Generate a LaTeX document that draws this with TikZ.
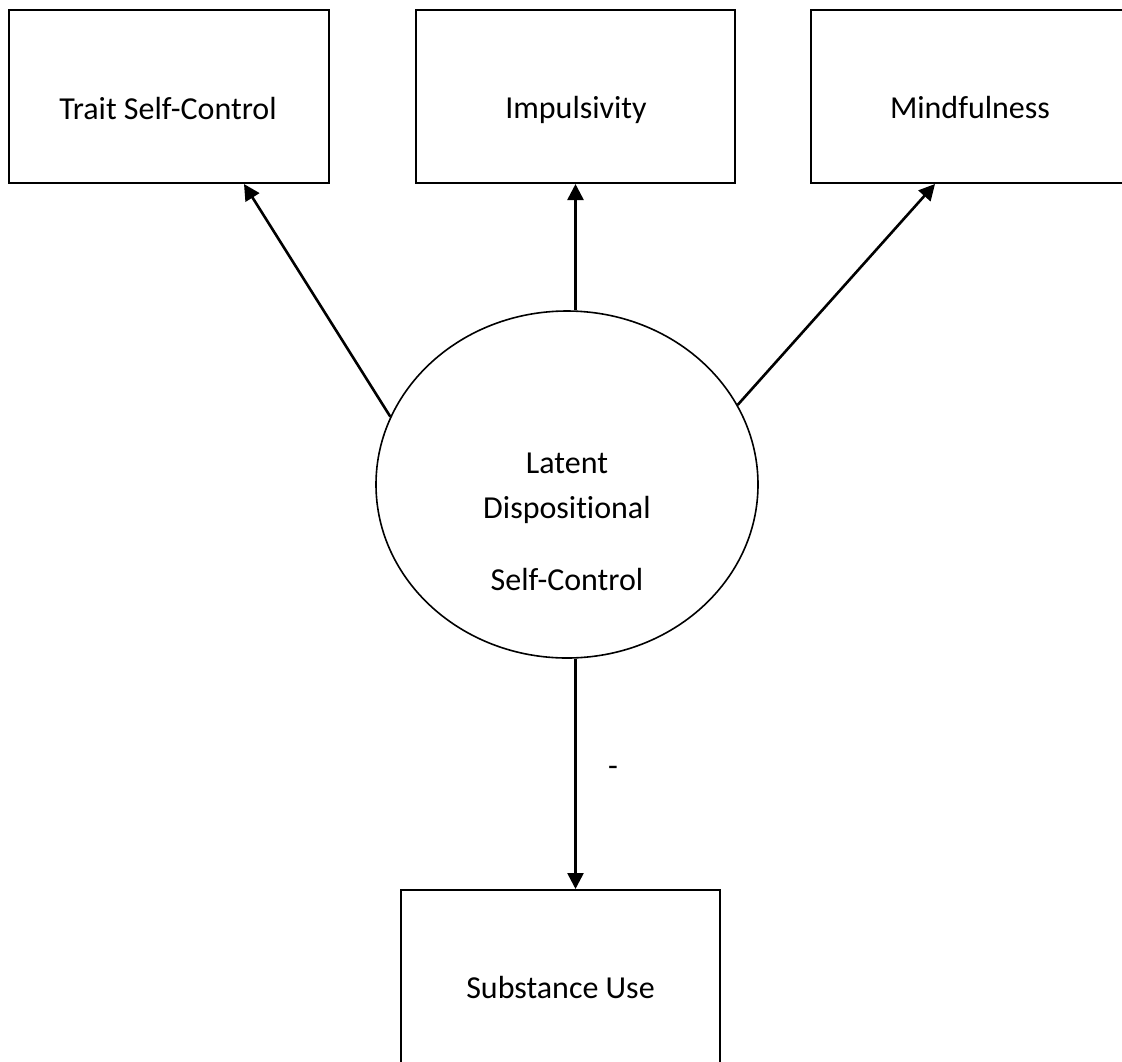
\documentclass[tikz,border=0pt]{standalone}
\usepackage{fontspec}
\setmainfont[Ligatures=NoCommon]{Carlito}
\usetikzlibrary{shapes.geometric,arrows.meta,calc}
\begin{document}
\begin{tikzpicture}[x=1pt,y=-1pt,
  box/.style={draw=black,line width=2pt,rectangle,inner sep=0pt,
    minimum width=319pt,minimum height=173pt},
  latent/.style={draw=black,line width=1.6pt,ellipse,inner sep=0pt,
    minimum width=382pt,minimum height=347pt},
  lbl/.style={anchor=base,inner sep=0pt,font=\fontsize{32}{38}\selectfont},
  arr/.style={line width=2.6pt,-{Triangle[length=16pt,width=16pt]}}]
\useasboundingbox (0,0) rectangle (1122,1061);
% observed indicators
\node[box,minimum width=320pt] (trait) at (169,96.5) {};
\node[box] (imp)  at (575.5,96.5) {};
\node[box] (mind) at (970.5,96.5) {};
\node[box] (sub)  at (560.5,976.5) {};
% latent factor
\node[latent] (lat) at (567,484.5) {};
% labels
\node[lbl] (tTrait) at (168,119) {Trait Self-Control};
\node[lbl] (tImp)   at (576,118) {Impulsivity};
\node[lbl] (tMind)  at (970,118) {Mindfulness};
\node[lbl] (tSub)   at (560.5,998) {Substance Use};
\node[lbl] (tLat1)  at (567,473) {Latent};
\node[lbl] (tLat2)  at (567,518) {Dispositional};
\node[lbl] (tLat3)  at (567,590) {Self-Control};
\node[lbl] (tNeg)   at (613,776) {-};
% paths
\draw[arr] (lat.159.5) -- ($(trait.south)+(75,0)$);
\draw[arr] (lat.north -| imp.south) -- (imp.south);
\draw[arr] (lat.25.9) -- ($(mind.south)+(-35.5,0)$);
\draw[arr] (lat.south -| imp.south) -- (sub.north -| imp.south);
\end{tikzpicture}
\end{document}
